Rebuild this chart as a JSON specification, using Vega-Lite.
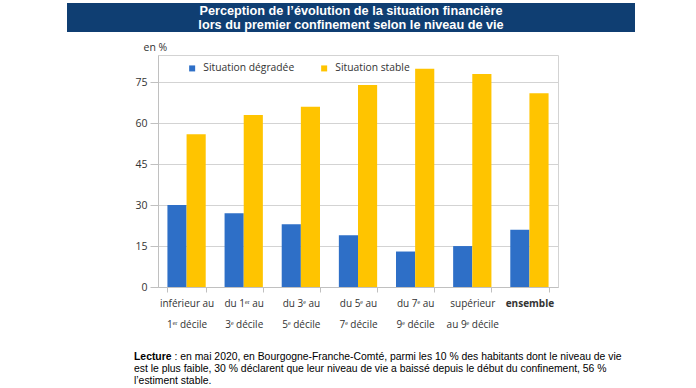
{
  "$schema": "https://vega.github.io/schema/vega-lite/v6.json",
  "background": "white",
  "padding": {"left": 67, "top": 3, "right": 0, "bottom": 0},
  "config": {"view": {"stroke": null}},
  "spacing": 9,
  "vconcat": [
    {
      "width": 568,
      "height": 29,
      "view": {"fill": "#0f3e72", "stroke": null},
      "data": {"values": [{"t": "Perception de l’évolution de la situation financière\nlors du premier confinement selon le niveau de vie"}]},
      "mark": {"type": "text", "color": "white", "font": "Liberation Sans", "fontWeight": "bold", "fontSize": 12.7, "lineBreak": "\n", "lineHeight": 14, "align": "center", "baseline": "middle", "dy": -6.5},
      "encoding": {"text": {"field": "t", "type": "nominal"}}
    },
    {
      "spacing": 0,
      "hconcat": [
        {
          "width": 67,
          "height": 1,
          "data": {"values": []},
          "mark": "point",
          "encoding": {}
        },
        {
          "width": 400,
          "height": 232,
          "view": {"stroke": "#d3d3d3"},
          "data": {"values": [
            {"cat": "inférieur au|1ᵉʳ décile", "serie": "Situation dégradée", "val": 30},
            {"cat": "inférieur au|1ᵉʳ décile", "serie": "Situation stable", "val": 56},
            {"cat": "du 1ᵉʳ au|3ᵉ décile", "serie": "Situation dégradée", "val": 27},
            {"cat": "du 1ᵉʳ au|3ᵉ décile", "serie": "Situation stable", "val": 63},
            {"cat": "du 3ᵉ au|5ᵉ décile", "serie": "Situation dégradée", "val": 23},
            {"cat": "du 3ᵉ au|5ᵉ décile", "serie": "Situation stable", "val": 66},
            {"cat": "du 5ᵉ au|7ᵉ décile", "serie": "Situation dégradée", "val": 19},
            {"cat": "du 5ᵉ au|7ᵉ décile", "serie": "Situation stable", "val": 74},
            {"cat": "du 7ᵉ au|9ᵉ décile", "serie": "Situation dégradée", "val": 13},
            {"cat": "du 7ᵉ au|9ᵉ décile", "serie": "Situation stable", "val": 80},
            {"cat": "supérieur|au 9ᵉ décile", "serie": "Situation dégradée", "val": 15},
            {"cat": "supérieur|au 9ᵉ décile", "serie": "Situation stable", "val": 78},
            {"cat": "ensemble", "serie": "Situation dégradée", "val": 21},
            {"cat": "ensemble", "serie": "Situation stable", "val": 71}
          ]},
          "mark": {"type": "bar"},
          "encoding": {
            "x": {
              "field": "cat", "type": "nominal", "sort": null,
              "scale": {"paddingInner": 0.33, "paddingOuter": 0.165},
              "axis": {
                "title": null, "labelAngle": 0,
                "labelExpr": "split(datum.label, '|')",
                "labelLineHeight": 21, "labelBaseline": "top",
                "labelFont": "Open Sans", "labelFontSize": 10, "labelColor": "#333333",
                "labelFontWeight": {"condition": {"test": "datum.value === 'ensemble'", "value": "bold"}, "value": "normal"},
                "tickBand": "extent", "tickSize": 5, "labelPadding": 6,
                "domainColor": "#c0c0c0", "tickColor": "#c0c0c0"
              }
            },
            "xOffset": {"field": "serie", "type": "nominal", "sort": ["Situation dégradée", "Situation stable"]},
            "y": {
              "field": "val", "type": "quantitative",
              "scale": {"domain": [0, 85], "nice": false},
              "axis": {
                "title": "en %", "titleAngle": 0, "titleX": -15, "titleY": -8,
                "titleAlign": "left", "titleBaseline": "middle",
                "titleFont": "Open Sans", "titleFontSize": 10.5, "titleFontWeight": "normal", "titleColor": "#333333",
                "values": [0, 15, 30, 45, 60, 75],
                "labelFont": "Open Sans", "labelFontSize": 10.5, "labelColor": "#333333",
                "tickSize": 8, "labelPadding": 3,
                "gridColor": "#d3d3d3", "domainColor": "#c0c0c0", "tickColor": "#c0c0c0"
              }
            },
            "color": {
              "field": "serie", "type": "nominal",
              "scale": {"domain": ["Situation dégradée", "Situation stable"], "range": ["#2e6fc7", "#ffc400"]},
              "legend": {
                "orient": "none", "legendX": 120, "legendY": 60, "direction": "horizontal",
                "title": null, "symbolType": "square", "symbolSize": 36,
                "labelFont": "Open Sans", "labelFontSize": 10.3, "labelColor": "#333333",
                "columnPadding": 24, "labelOffset": 6
              }
            }
          }
        }
      ]
    },
    {
      "width": 134,
      "height": 26,
      "data": {"values": [{"a": "Lecture", "b": ": en mai 2020, en Bourgogne-Franche-Comté, parmi les 10 % des habitants dont le niveau de vie", "c": "est le plus faible, 30 % déclarent que leur niveau de vie a baissé depuis le début du confinement, 56 %\nl’estiment stable."}]},
      "layer": [
        {"mark": {"type": "text", "align": "left", "baseline": "top", "font": "Liberation Sans", "fontSize": 10.4, "fontWeight": "bold", "color": "black"}, "encoding": {"text": {"field": "a"}}},
        {"mark": {"type": "text", "align": "left", "baseline": "top", "font": "Liberation Sans", "fontSize": 10.4, "color": "black", "dx": 40.5}, "encoding": {"text": {"field": "b"}}},
        {"mark": {"type": "text", "align": "left", "baseline": "top", "font": "Liberation Sans", "fontSize": 10.4, "color": "black", "dy": 12, "lineBreak": "\n", "lineHeight": 12}, "encoding": {"text": {"field": "c"}}}
      ]
    }
  ]
}
